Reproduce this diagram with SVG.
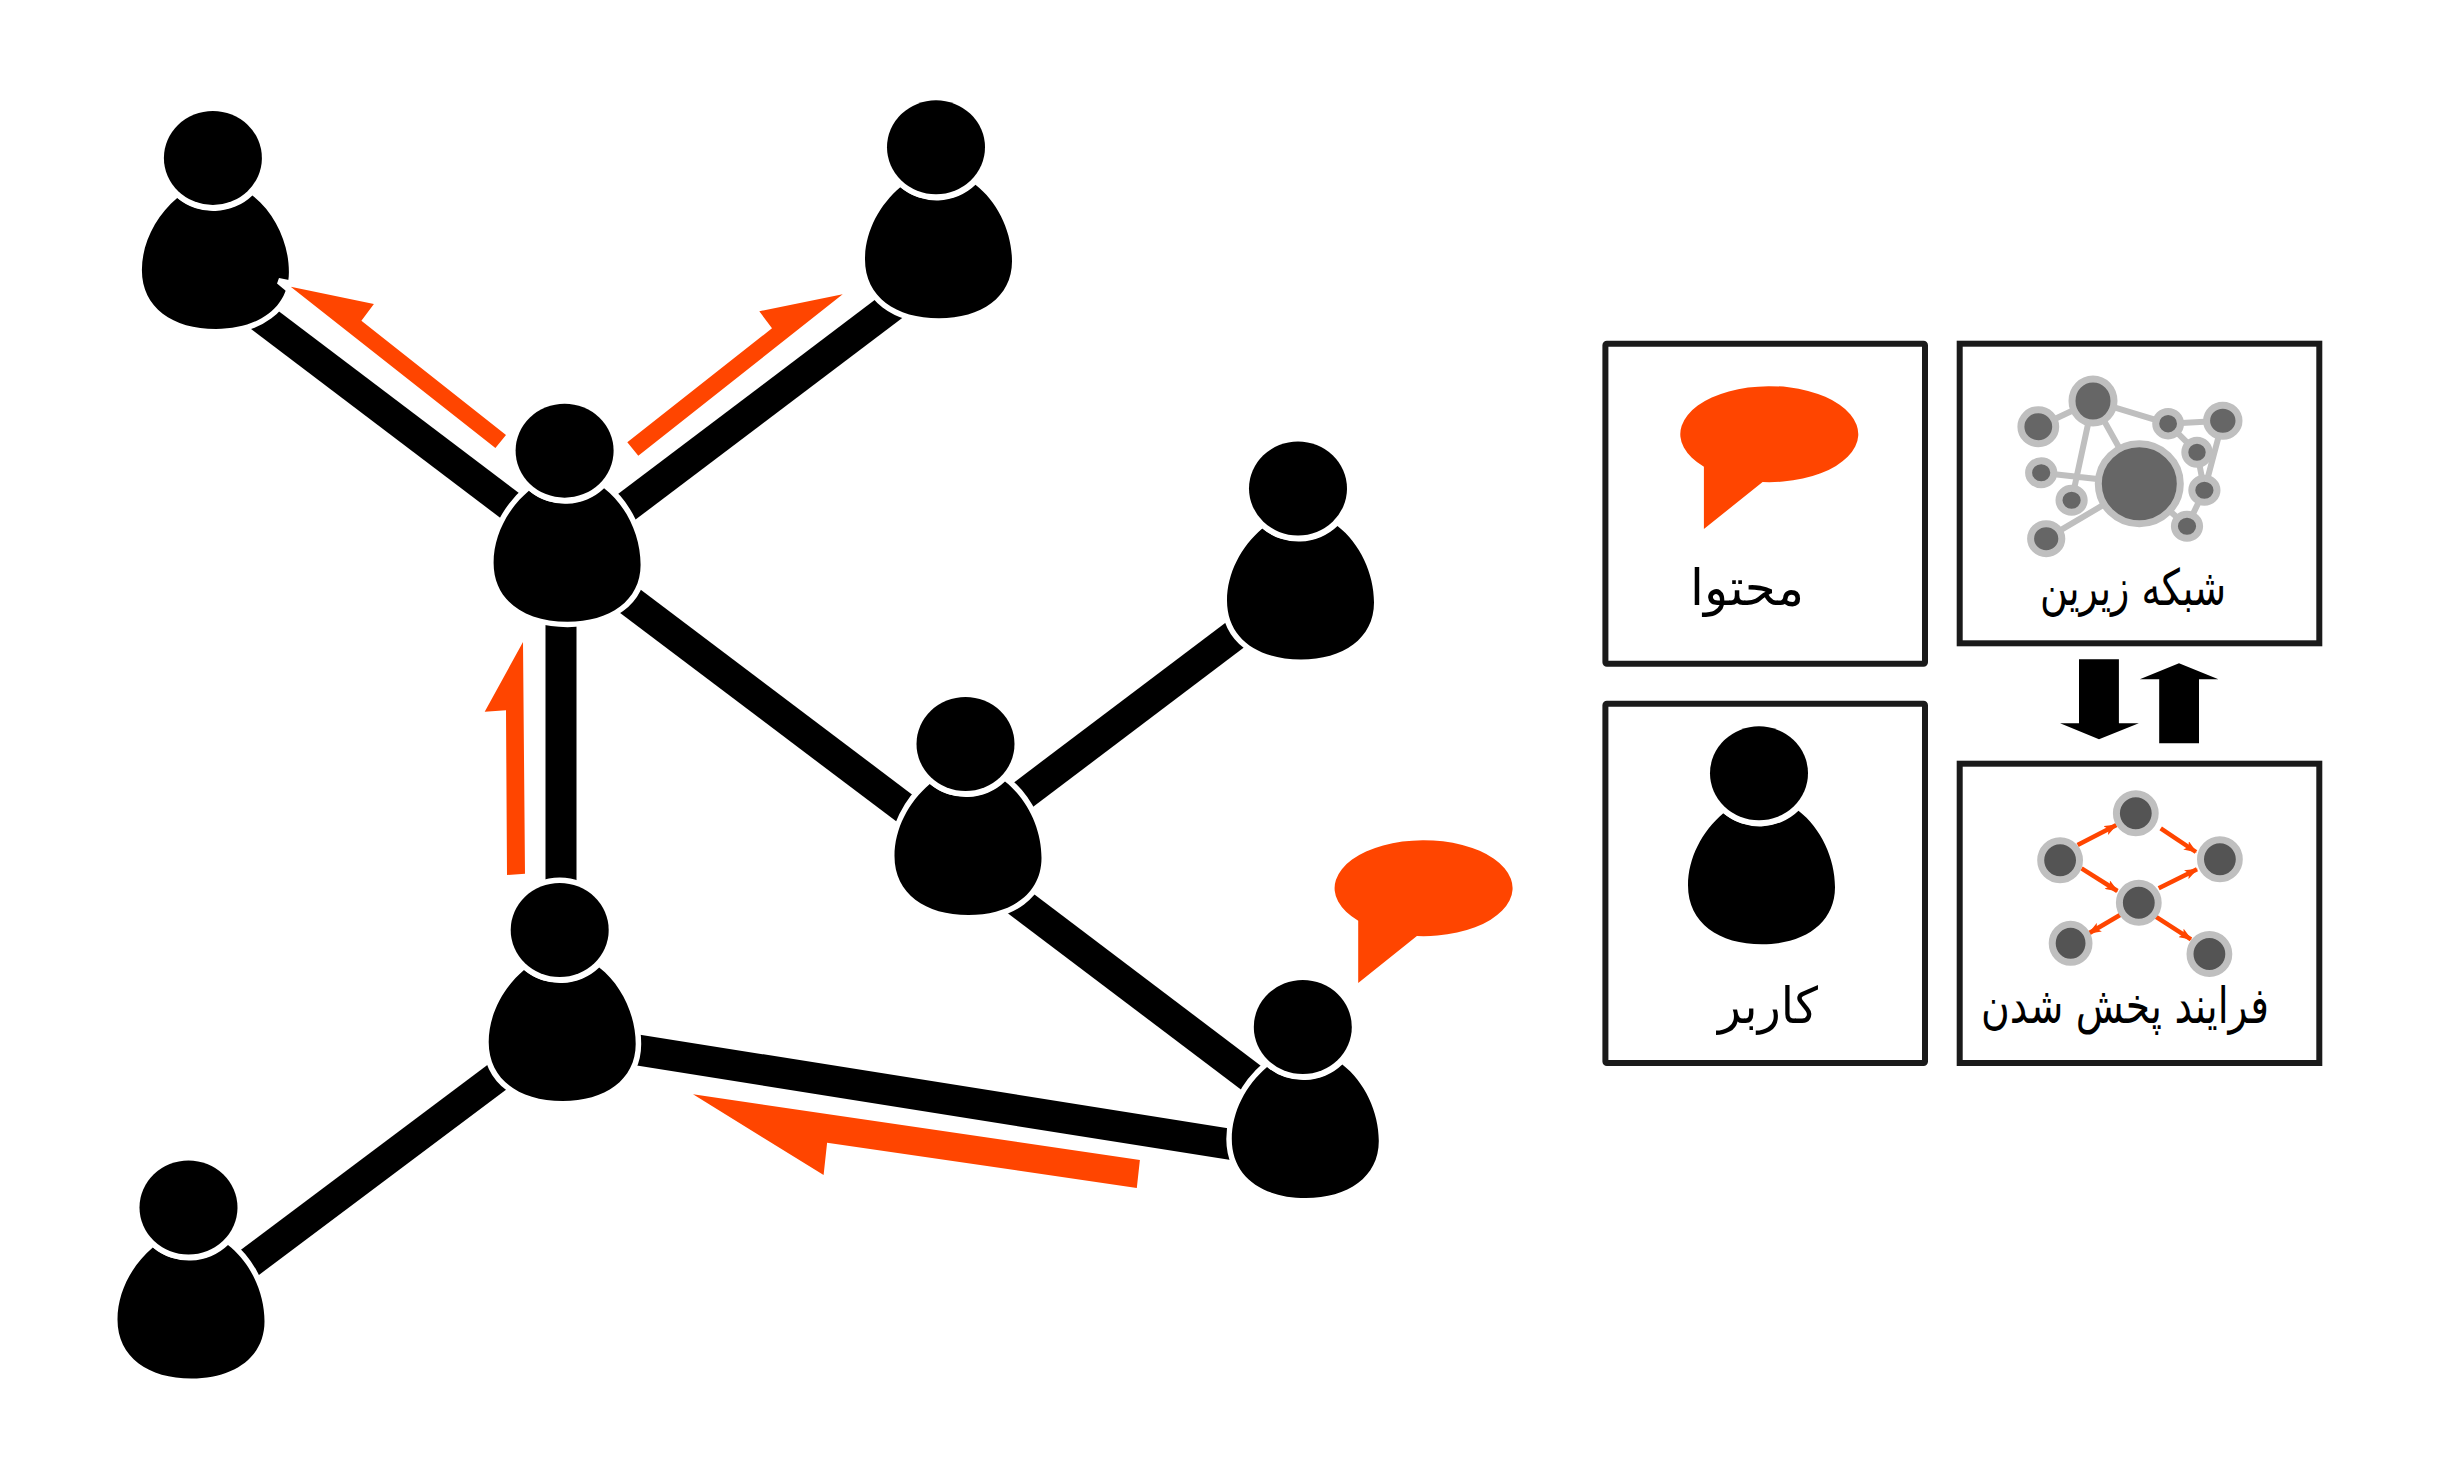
<svg xmlns="http://www.w3.org/2000/svg" width="2439" height="1479" viewBox="0 0 2439 1479">
<style>
.link{stroke:#000;stroke-width:31;fill:none}
.flow{fill:#ff4500}
.blk{fill:#000;stroke:#fff;stroke-width:11;paint-order:stroke}
.box{fill:#fff;stroke:#1a1a1a;stroke-width:6}
.e1{stroke:#bfbfbf;stroke-width:6;fill:none}
.n1{fill:#666;stroke:#bfbfbf;stroke-width:7}
.n2{fill:#545454;stroke:#bfbfbf;stroke-width:7}
.f{stroke:#ff4500;stroke-width:4.5;fill:none;marker-end:url(#ah)}
.lbl{font-family:"DejaVu Sans",serif;font-size:50px;fill:#000;text-anchor:middle;direction:rtl}
</style>
<defs>
<marker id="ah" markerUnits="userSpaceOnUse" markerWidth="14" markerHeight="10" refX="12" refY="5" orient="auto"><path d="M0,0L13,5L0,10L3,5Z" fill="#ff4500"/></marker>
<g id="person">
<path class="blk" d="M39.5,37.5C62,55 76,85 76,114C76,150 45,171 3,171C-40,171 -71,150 -71,112C-71,85 -57,58 -35.7,40A55 53 0 0 0 39.5,37.5Z"/>
<ellipse class="blk" rx="49" ry="47"/>
</g>
<path id="bubble" class="flow" d="M-63.6,32.7A89 48 0 1 1 -4.9,48L-63.6,95Z"/>
</defs>
<rect width="2439" height="1479" fill="#fff"/>
<g id="connectors">
<line class="link" x1="230" y1="293.7" x2="540" y2="528.5"/>
<line class="link" x1="600" y1="527" x2="920" y2="285.2"/>
<line class="link" x1="600" y1="578.4" x2="940" y2="835"/>
<line class="link" x1="1000" y1="812.4" x2="1260" y2="616"/>
<line class="link" x1="990" y1="880.3" x2="1280" y2="1099.7"/>
<line class="link" x1="561" y1="560" x2="561" y2="960"/>
<line class="link" x1="600" y1="1044" x2="1260" y2="1149"/>
<line class="link" x1="532" y1="1051" x2="217" y2="1287"/>
</g>
<g id="user-1"><use href="#person" x="212.9" y="157.9"/></g>
<g id="user-2"><use href="#person" x="936" y="147.3"/></g>
<g id="user-3"><use href="#person" x="564.6" y="450.7"/></g>
<g id="user-4"><use href="#person" x="1298" y="488.5"/></g>
<g id="user-5"><use href="#person" x="965.5" y="744"/></g>
<g id="user-6"><use href="#person" x="559.7" y="930"/></g>
<g id="user-7"><use href="#person" x="1302.8" y="1027"/></g>
<g id="user-8"><use href="#person" x="188.5" y="1207.5"/></g>
<g id="flows">
<polygon fill="#fff" points="279,278 289,280 291.4,286.8 286,291 277,283.6"/>
<polygon class="flow" points="290.7,286.8 373.9,303.9 361.4,320.7 506,435 495.4,447.9"/>
<polygon class="flow" points="842.7,294.3 759.3,311.3 772,328.3 627.3,442.3 638.3,455.7"/>
<polygon class="flow" points="523,642 484.7,711.7 506,710.3 507,875 525,873.7"/>
<polygon class="flow" points="693,1094.3 1139.9,1160 1136.8,1188 827.1,1142.7 823.6,1175"/>
</g>
<g id="content-bubble"><use href="#bubble" x="1421.8" y="888"/></g>
<g id="legend-content">
<rect class="box" x="1605.4" y="343.7" width="319.6" height="320" rx="1.5" stroke-linejoin="round"/>
<use href="#bubble" x="1767.5" y="434"/>
<text class="lbl" x="1747" y="605" textLength="114" lengthAdjust="spacingAndGlyphs">محتوا</text>
</g>
<g id="legend-user">
<rect class="box" x="1605.4" y="703.7" width="319.6" height="359.3" rx="1.5" stroke-linejoin="round"/>
<use href="#person" x="1759" y="773.3"/>
<text class="lbl" x="1768" y="1023" textLength="100" lengthAdjust="spacingAndGlyphs">کاربر</text>
</g>
<g id="legend-network">
<rect class="box" x="1959.7" y="343.7" width="359.6" height="299.6"/>
<g>
<path class="e1" d="M2038.3,426.7L2093,401L2168.1,423.7L2222.8,420.7L2204.4,490.3M2093,401L2139.3,483.7M2093,401L2071.6,500.3M2168.1,423.7L2197,452.3L2204.4,490.3L2187,526.3L2139.3,483.7L2041.2,472.7M2139.3,483.7L2046.2,538.7"/>
<ellipse class="n1" cx="2038.3" cy="426.7" rx="17.4" ry="17"/>
<ellipse class="n1" cx="2093" cy="401" rx="21" ry="22"/>
<ellipse class="n1" cx="2168.1" cy="423.7" rx="12.4" ry="12.2"/>
<ellipse class="n1" cx="2222.8" cy="420.7" rx="16.2" ry="15.5"/>
<ellipse class="n1" cx="2197" cy="452.3" rx="12.2" ry="12"/>
<ellipse class="n1" cx="2041.2" cy="472.7" rx="12.6" ry="12"/>
<ellipse class="n1" cx="2071.6" cy="500.3" rx="12.6" ry="12"/>
<ellipse class="n1" cx="2139.3" cy="483.7" rx="41" ry="40"/>
<ellipse class="n1" cx="2204.4" cy="490.3" rx="12.6" ry="12"/>
<ellipse class="n1" cx="2187" cy="526.3" rx="12.6" ry="12"/>
<ellipse class="n1" cx="2046.2" cy="538.7" rx="15.6" ry="15"/>
</g>
<text class="lbl" x="2133" y="605" textLength="186" lengthAdjust="spacingAndGlyphs">شبکه زیرین</text>
</g>
<g id="legend-arrows">
<polygon fill="#000" points="2079,659.3 2118.9,659.3 2118.9,723.3 2138.8,723.3 2099,739.3 2060.1,723.3 2079,723.3"/>
<polygon fill="#000" points="2159.2,743.3 2199,743.3 2199,679.3 2218.4,679.3 2179,663.3 2139.8,679.3 2159.2,679.3"/>
</g>
<g id="legend-process">
<rect class="box" x="1959.7" y="763.7" width="359.6" height="299.3"/>
<g>
<line class="f" x1="2077.6" y1="845" x2="2116.4" y2="825"/>
<line class="f" x1="2160.7" y1="828.3" x2="2196" y2="852"/>
<line class="f" x1="2081.5" y1="868.3" x2="2117.4" y2="891"/>
<line class="f" x1="2158.7" y1="888.3" x2="2197" y2="869.3"/>
<line class="f" x1="2121.3" y1="914.3" x2="2089" y2="933.3"/>
<line class="f" x1="2155.7" y1="916.7" x2="2191" y2="939.3"/>
<ellipse class="n2" cx="2060.1" cy="860.3" rx="19.4" ry="19.5"/>
<ellipse class="n2" cx="2135.8" cy="813.3" rx="19.4" ry="19.5"/>
<ellipse class="n2" cx="2219.9" cy="859.3" rx="19.4" ry="19.5"/>
<ellipse class="n2" cx="2138.8" cy="902.7" rx="19.4" ry="19.5"/>
<ellipse class="n2" cx="2070.6" cy="943.3" rx="18.4" ry="19"/>
<ellipse class="n2" cx="2209.4" cy="954" rx="19.4" ry="19.5"/>
</g>
<text class="lbl" x="2125" y="1023" textLength="288" lengthAdjust="spacingAndGlyphs">فرایند پخش شدن</text>
</g>
</svg>
